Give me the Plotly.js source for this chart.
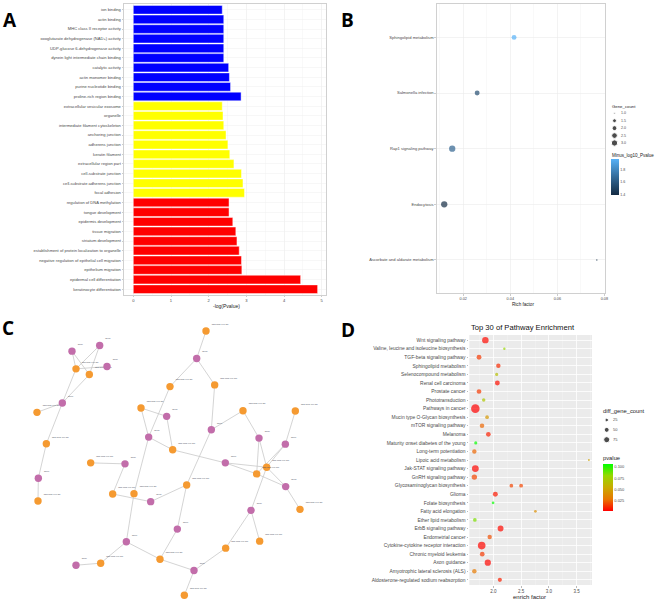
<!DOCTYPE html>
<html><head><meta charset="utf-8">
<script src="https://cdn.plot.ly/plotly-3.0.1.min.js"></script>
<style>html,body{margin:0;padding:0;background:#fff}#chart{width:660px;height:601px}</style>
</head><body><div id="chart"></div>
<script>
// ---------- Panel A: GO enrichment ----------
const goTerms = [
 'ion binding','actin binding','MHC class II receptor activity','oxoglutarate dehydrogenase (NAD+) activity',
 'UDP-glucose 6-dehydrogenase activity','dynein light intermediate chain binding','catalytic activity',
 'actin monomer binding','purine nucleotide binding','proline-rich region binding',
 'extracellular vesicular exosome','organelle','intermediate filament cytoskeleton','anchoring junction',
 'adherens junction','keratin filament','extracellular region part','cell-substrate junction',
 'cell-substrate adherens junction','focal adhesion',
 'regulation of DNA methylation','tongue development','epidermis development','tissue migration',
 'striatum development','establishment of protein localization to organelle',
 'negative regulation of epithelial cell migration','epithelium migration',
 'epidermal cell differentiation','keratinocyte differentiation'];
const goLogP = [2.36,2.40,2.40,2.40,2.40,2.40,2.53,2.55,2.58,2.86,
                2.36,2.38,2.40,2.46,2.51,2.56,2.67,2.87,2.91,2.95,
                2.54,2.54,2.64,2.72,2.75,2.81,2.87,2.88,4.44,4.89];
const goClass = ['MF','MF','MF','MF','MF','MF','MF','MF','MF','MF',
                 'CC','CC','CC','CC','CC','CC','CC','CC','CC','CC',
                 'BP','BP','BP','BP','BP','BP','BP','BP','BP','BP'];
const goTicks = [0,1,2,3,4,5];

// ---------- Panel B: KEGG bubble ----------
const keggTerms = ['Sphingolipid metabolism','Salmonella infection','Rap1 signaling pathway','Endocytosis','Ascorbate and aldarate metabolism'];
const keggRichFactor = [0.0416,0.0259,0.0153,0.0119,0.0768];
const keggGeneCount = [2,2,3,3,1];
const keggMinusLog10P = [1.97,1.55,1.65,1.40,1.42];
const geneCountLegend = [1.0,1.5,2.0,2.5,3.0];
const keggTicks = [0.02,0.04,0.06,0.08];
const keggColorTicks = [1.4,1.6,1.8];

// ---------- Panel C: network ----------
const nodeX = [216,299,228,268,321,187,111,139,115,114,618,590,510,644,423,500,634,729,886,446,777,856,518,272,375,676,800,770,560,857,338,402,452,753,900,532,779,379,677,480,228,302,582,553];
const nodeY = [123,106,176,193,169,278,306,400,503,571,63,145,229,224,293,318,358,301,302,380,383,401,418,457,460,457,470,490,523,528,550,549,573,599,596,655,691,693,712,745,763,757,779,853];
const nodeType = ['P','P','O','O','P','P','O','O','P','O',
                  'O','P','O','O','O','P','P','O','O','P',
                  'P','P','O','O','P','P','O','O','O','P',
                  'O','O','P','P','O','P','O','P','O','O',
                  'P','O','P','O'];
const edgeFrom = [0,0,1,1,2,2,3,5,5,7,8, 10,11,11,12,19,31,14,14,15,19,22,25,25,13,16,16,17,20,20,18,21,21,26,27,29,26,33,33,38,42,42,39,35,28,32,30,24,37,37,41];
const edgeTo   = [2,3,2,3,4,5,5,6,7,8,9, 11,12,13,19,31,37,19,15,22,22,25,26,27,16,17,28,20,26,27,21,26,27,29,29,34,33,36,38,42,43,39,35,28,32,30,24,23,39,41,40];
const mirnaLabel = 'hsa-miR-xxx-5p';
const geneLabel = 'gene';

// ---------- Panel D: pathway enrichment ----------
const pathwayOrder = ['Wnt signaling pathway','Valine, leucine and isoleucine biosynthesis','TGF-beta signaling pathway',
 'Sphingolipid metabolism','Selenocompound metabolism','Renal cell carcinoma','Prostate cancer','Phototransduction',
 'Pathways in cancer','Mucin type O-Glycan biosynthesis','mTOR signaling pathway','Melanoma',
 'Maturity onset diabetes of the young','Long-term potentiation','Lipoic acid metabolism','Jak-STAT signaling pathway',
 'GnRH signaling pathway','Glycosaminoglycan biosynthesis','Glioma','Folate biosynthesis','Fatty acid elongation',
 'Ether lipid metabolism','ErbB signaling pathway','Endometrial cancer','Cytokine-cytokine receptor interaction',
 'Chronic myeloid leukemia','Axon guidance','Amyotrophic lateral sclerosis (ALS)','Aldosterone-regulated sodium reabsorption'];
const pathwayName = ['Wnt signaling pathway','Valine, leucine and isoleucine biosynthesis','TGF-beta signaling pathway',
 'Sphingolipid metabolism','Selenocompound metabolism','Renal cell carcinoma','Prostate cancer','Phototransduction',
 'Pathways in cancer','Mucin type O-Glycan biosynthesis','mTOR signaling pathway','Melanoma',
 'Maturity onset diabetes of the young','Long-term potentiation','Lipoic acid metabolism','Jak-STAT signaling pathway',
 'GnRH signaling pathway','Glycosaminoglycan biosynthesis','Glycosaminoglycan biosynthesis','Glioma','Folate biosynthesis','Fatty acid elongation',
 'Ether lipid metabolism','ErbB signaling pathway','Endometrial cancer','Cytokine-cytokine receptor interaction',
 'Chronic myeloid leukemia','Axon guidance','Amyotrophic lateral sclerosis (ALS)','Aldosterone-regulated sodium reabsorption'];
const enrichFactor = [1.856,2.198,1.742,2.09,2.06,2.072,1.742,1.826,1.676,1.887,1.796,1.91,1.683,1.658,3.72,1.676,1.658,2.324,2.50,2.036,1.995,2.757,1.667,2.13,1.934,1.79,1.80,1.90,1.658,2.117];
const diffGeneCount = [85,12,48,40,20,50,45,25,150,28,42,45,20,40,8,95,60,28,30,50,15,15,28,70,40,120,45,80,40,35];
const pathwayP = [0.005,0.08,0.015,0.012,0.065,0.006,0.015,0.07,0.003,0.045,0.025,0.01,0.105,0.025,0.05,0.004,0.018,0.018,0.018,0.008,0.105,0.04,0.085,0.005,0.02,0.004,0.015,0.004,0.03,0.01];
const diffLegend = [25,50,75];
const enrichTicks = [2.0,2.5,3.0,3.5];
const pTicks = [0.025,0.05,0.075,0.1];

// ---------- helpers ----------
const W = 660, H = 601;
const px = x => x / W;
const py = y => 1 - y / H;
const FONT = 'Liberation Sans, Arial, sans-serif';
const sizeB = v => 1.5 + 4.8 * Math.sqrt((v - 1) / 2);
const sizeD = v => 0.7 * Math.sqrt(v);
const classColor = {MF:'#0000FF', CC:'#FFFF00', BP:'#FF0000'};
const LBL = '#4A4A4A';

const traces = [];
// A bars
traces.push({type:'bar', orientation:'h', x:goLogP, y:goTerms, xaxis:'x', yaxis:'y', width:0.9,
  marker:{color:goClass.map(c=>classColor[c]), line:{color:'rgba(255,255,255,0.75)', width:0.6}}, hoverinfo:'skip'});
// B bubbles
traces.push({type:'scatter', mode:'markers', x:keggRichFactor, y:keggTerms, xaxis:'x2', yaxis:'y2',
  marker:{size:keggGeneCount.map(sizeB), color:keggMinusLog10P, cmin:1.395, cmax:1.97,
    colorscale:[[0,'#132B43'],[0.5,'#336A98'],[1,'#56B1F7']], line:{width:0}, showscale:true,
    colorbar:{x:px(611), xanchor:'left', y:py(158.7), yanchor:'top', lenmode:'pixels', len:35.5,
      thickness:7.7, xpad:0, ypad:0, outlinewidth:0, ticks:'', tickvals:keggColorTicks,
      ticktext:keggColorTicks.map(v=>v.toFixed(1)), tickfont:{size:3.6, color:LBL, family:FONT}}}, hoverinfo:'skip'});
// B size legend dots
traces.push({type:'scatter', mode:'markers', x:geneCountLegend.map(()=>0), y:geneCountLegend, xaxis:'x5', yaxis:'y5',
  marker:{size:geneCountLegend.map(sizeB), color:'#000'}, hoverinfo:'skip'});
// C edges
const ex = [], ey = [];
edgeFrom.forEach((f,i)=>{ const t = edgeTo[i]; ex.push(nodeX[f], nodeX[t], null); ey.push(nodeY[f], nodeY[t], null); });
traces.push({type:'scatter', mode:'lines', x:ex, y:ey, xaxis:'x3', yaxis:'y3', line:{color:'#C9C9C9', width:0.8}, hoverinfo:'skip'});
// C nodes
['O','P'].forEach(tp=>{
  const idx = nodeType.map((t,i)=>t===tp?i:-1).filter(i=>i>=0);
  traces.push({type:'scatter', mode:'markers+text', x:idx.map(i=>nodeX[i]), y:idx.map(i=>nodeY[i]), xaxis:'x3', yaxis:'y3',
    text:idx.map(()=> tp==='O'?mirnaLabel:geneLabel), textposition:'top right',
    textfont:{size:2.4, color:'#4a5060', family:FONT},
    marker:{size:7.4, color: tp==='O'?'#F59A31':'#C26DAA', line:{width:0}}, hoverinfo:'skip'});
});
// D bubbles
traces.push({type:'scatter', mode:'markers', x:enrichFactor, y:pathwayName, xaxis:'x4', yaxis:'y4',
  marker:{size:diffGeneCount.map(sizeD), color:pathwayP, cmin:0.003, cmax:0.106,
    colorscale:[[0,'#FF0000'],[0.25,'#E87600'],[0.5,'#C9AB00'],[0.75,'#98D700'],[1,'#00FF00']],
    line:{width:0}, showscale:true,
    colorbar:{x:px(602.7), xanchor:'left', y:py(464), yanchor:'top', lenmode:'pixels', len:47,
      thickness:10, xpad:0, ypad:0, outlinewidth:0, ticks:'', tickvals:pTicks,
      ticktext:pTicks.map(v=>v.toFixed(3)), tickfont:{size:4, color:LBL, family:FONT}}}, hoverinfo:'skip'});
// D size legend dots
traces.push({type:'scatter', mode:'markers', x:diffLegend.map(()=>0), y:diffLegend, xaxis:'x6', yaxis:'y6',
  marker:{size:diffLegend.map(sizeD), color:'#000'}, hoverinfo:'skip'});

const tickFont = s => ({size:s, color:LBL, family:FONT});
const hidden = {visible:false, showgrid:false, zeroline:false, fixedrange:true};

const layout = {
  width:W, height:H, margin:{l:0,r:0,t:0,b:0}, paper_bgcolor:'#fff', plot_bgcolor:'rgba(0,0,0,0)',
  showlegend:false, font:{family:FONT},
  xaxis:{domain:[px(124),px(326)], anchor:'y', range:[-0.247,5.113], tickvals:goTicks, tickfont:tickFont(4.1),
    ticks:'outside', ticklen:1.5, tickwidth:0.5, tickcolor:'#999', showgrid:true, gridcolor:'#EBEBEB', gridwidth:0.6,
    minor:{tickvals:[0.5,1.5,2.5,3.5,4.5], showgrid:true, gridcolor:'#F4F4F4', gridwidth:0.5},
    showline:true, mirror:true, linecolor:'#C4C4C4', linewidth:0.8, zeroline:false},
  yaxis:{domain:[py(295),py(4)], anchor:'x', type:'category', categoryorder:'array', categoryarray:goTerms,
    range:[29.6,-0.6], tickfont:tickFont(4.1), ticks:'outside', ticklen:1.5, tickwidth:0.5, tickcolor:'#999',
    showgrid:true, gridcolor:'#F0F0F0', gridwidth:0.5, showline:true, mirror:true, linecolor:'#C4C4C4', linewidth:0.8},
  xaxis2:{domain:[px(436.7),px(605.3)], anchor:'y2', range:[0.0087,0.0804], tickvals:keggTicks,
    ticktext:keggTicks.map(v=>v.toFixed(2)), tickfont:tickFont(3.8), ticks:'outside', ticklen:1.5, tickwidth:0.5, tickcolor:'#999',
    showgrid:true, gridcolor:'#EBEBEB', gridwidth:0.6, minor:{tickvals:[0.01,0.03,0.05,0.07], showgrid:true, gridcolor:'#F4F4F4', gridwidth:0.5},
    showline:true, mirror:true, linecolor:'#C4C4C4', linewidth:0.8, zeroline:false},
  yaxis2:{domain:[py(293.3),py(4)], anchor:'x2', type:'category', categoryorder:'array', categoryarray:keggTerms,
    range:[4.6,-0.6], tickfont:tickFont(4.1), ticks:'outside', ticklen:1.5, tickwidth:0.5, tickcolor:'#999',
    showgrid:true, gridcolor:'#EBEBEB', gridwidth:0.6, showline:true, mirror:true, linecolor:'#C4C4C4', linewidth:0.8},
  xaxis3:Object.assign({domain:[0,0.5], anchor:'y3', range:[0,990]}, hidden),
  yaxis3:Object.assign({domain:[0,py(310)], anchor:'x3', range:[870,0]}, hidden),
  xaxis4:{domain:[px(469.3),px(592)], anchor:'y4', range:[1.567,3.776], tickvals:enrichTicks,
    ticktext:enrichTicks.map(v=>v.toFixed(1)), tickfont:tickFont(4.5), ticks:'outside', ticklen:1.8, tickwidth:0.5, tickcolor:'#777',
    showgrid:true, gridcolor:'#FFFFFF', gridwidth:0.8, minor:{tickvals:[1.75,2.25,2.75,3.25,3.75], showgrid:true, gridcolor:'#F6F6F6', gridwidth:0.4},
    showline:false, zeroline:false},
  yaxis4:{domain:[py(585),py(335)], anchor:'x4', type:'category', categoryorder:'array', categoryarray:pathwayOrder,
    range:[28.6,-0.6], tickfont:tickFont(4.9), ticks:'outside', ticklen:1.8, tickwidth:0.5, tickcolor:'#777',
    showgrid:true, gridcolor:'#FFFFFF', gridwidth:0.8, showline:false, zeroline:false},
  xaxis5:Object.assign({domain:[px(608),px(621)], anchor:'y5', range:[-1,1]}, hidden),
  yaxis5:Object.assign({domain:[py(151),py(105)], anchor:'x5', range:[3.539,0.441]}, hidden),
  xaxis6:Object.assign({domain:[px(600),px(613.4)], anchor:'y6', range:[-1,1]}, hidden),
  yaxis6:Object.assign({domain:[py(450),py(410)], anchor:'x6', range:[101.1,-0.38]}, hidden),
  shapes:[{type:'rect', xref:'x4 domain', yref:'y4 domain', x0:0, x1:1, y0:0, y1:1, fillcolor:'#EBEBEB', line:{width:0}, layer:'below'}],
  annotations:[]
};
const ann = layout.annotations;
const addText = (text, x, y, size, opts) => ann.push(Object.assign({text, x:px(x), y:py(y), xref:'paper', yref:'paper',
  showarrow:false, font:{size, color:'#222', family:FONT}, xanchor:'center', yanchor:'middle', borderpad:0}, opts||{}));
// panel letters
[['A',9.5,20.5],['B',347.5,20.3],['C',7.5,327.8],['D',347.8,329.6]].forEach(([t,x,y])=>
  addText('<b>'+t+'</b>', x, y, 19, {font:{size:19, color:'#000', family:'Open Sans, Liberation Sans, sans-serif'}}));
// axis titles / titles
addText('-log(Pvalue)', 226, 306.3, 5, {font:{size:5, color:'#222', family:FONT}});
addText('Rich factor', 522.7, 304.3, 4.6, {font:{size:4.6, color:'#222', family:FONT}});
addText('enrich factor', 529, 596.7, 6, {font:{size:6, color:'#222', family:FONT}});
addText('Top 30 of Pathway Enrichment', 522.7, 327.3, 7.6, {font:{size:7.6, color:'#111', family:FONT}});
// legend titles
addText('Gene_count', 611, 106, 4.3, {xanchor:'left', font:{size:4.3, color:'#222', family:FONT}});
addText('Minus_log10_Pvalue', 611, 155, 4.5, {xanchor:'left', font:{size:4.5, color:'#222', family:FONT}});
addText('diff_gene_count', 601.7, 411, 5.8, {xanchor:'left', font:{size:5.8, color:'#222', family:FONT}});
addText('pvalue', 601.7, 458.3, 5.8, {xanchor:'left', font:{size:5.8, color:'#222', family:FONT}});
// legend entry labels
geneCountLegend.forEach(v=>ann.push({text:v.toFixed(1), x:0, y:v, xref:'x5', yref:'y5', xshift:5.2, xanchor:'left', yanchor:'middle',
  showarrow:false, borderpad:0, font:{size:3.6, color:LBL, family:FONT}}));
diffLegend.forEach(v=>ann.push({text:String(v), x:0, y:v, xref:'x6', yref:'y6', xshift:5.6, xanchor:'left', yanchor:'middle',
  showarrow:false, borderpad:0, font:{size:4, color:LBL, family:FONT}}));

Plotly.newPlot('chart', traces, layout, {staticPlot:true, displayModeBar:false});
</script></body></html>
